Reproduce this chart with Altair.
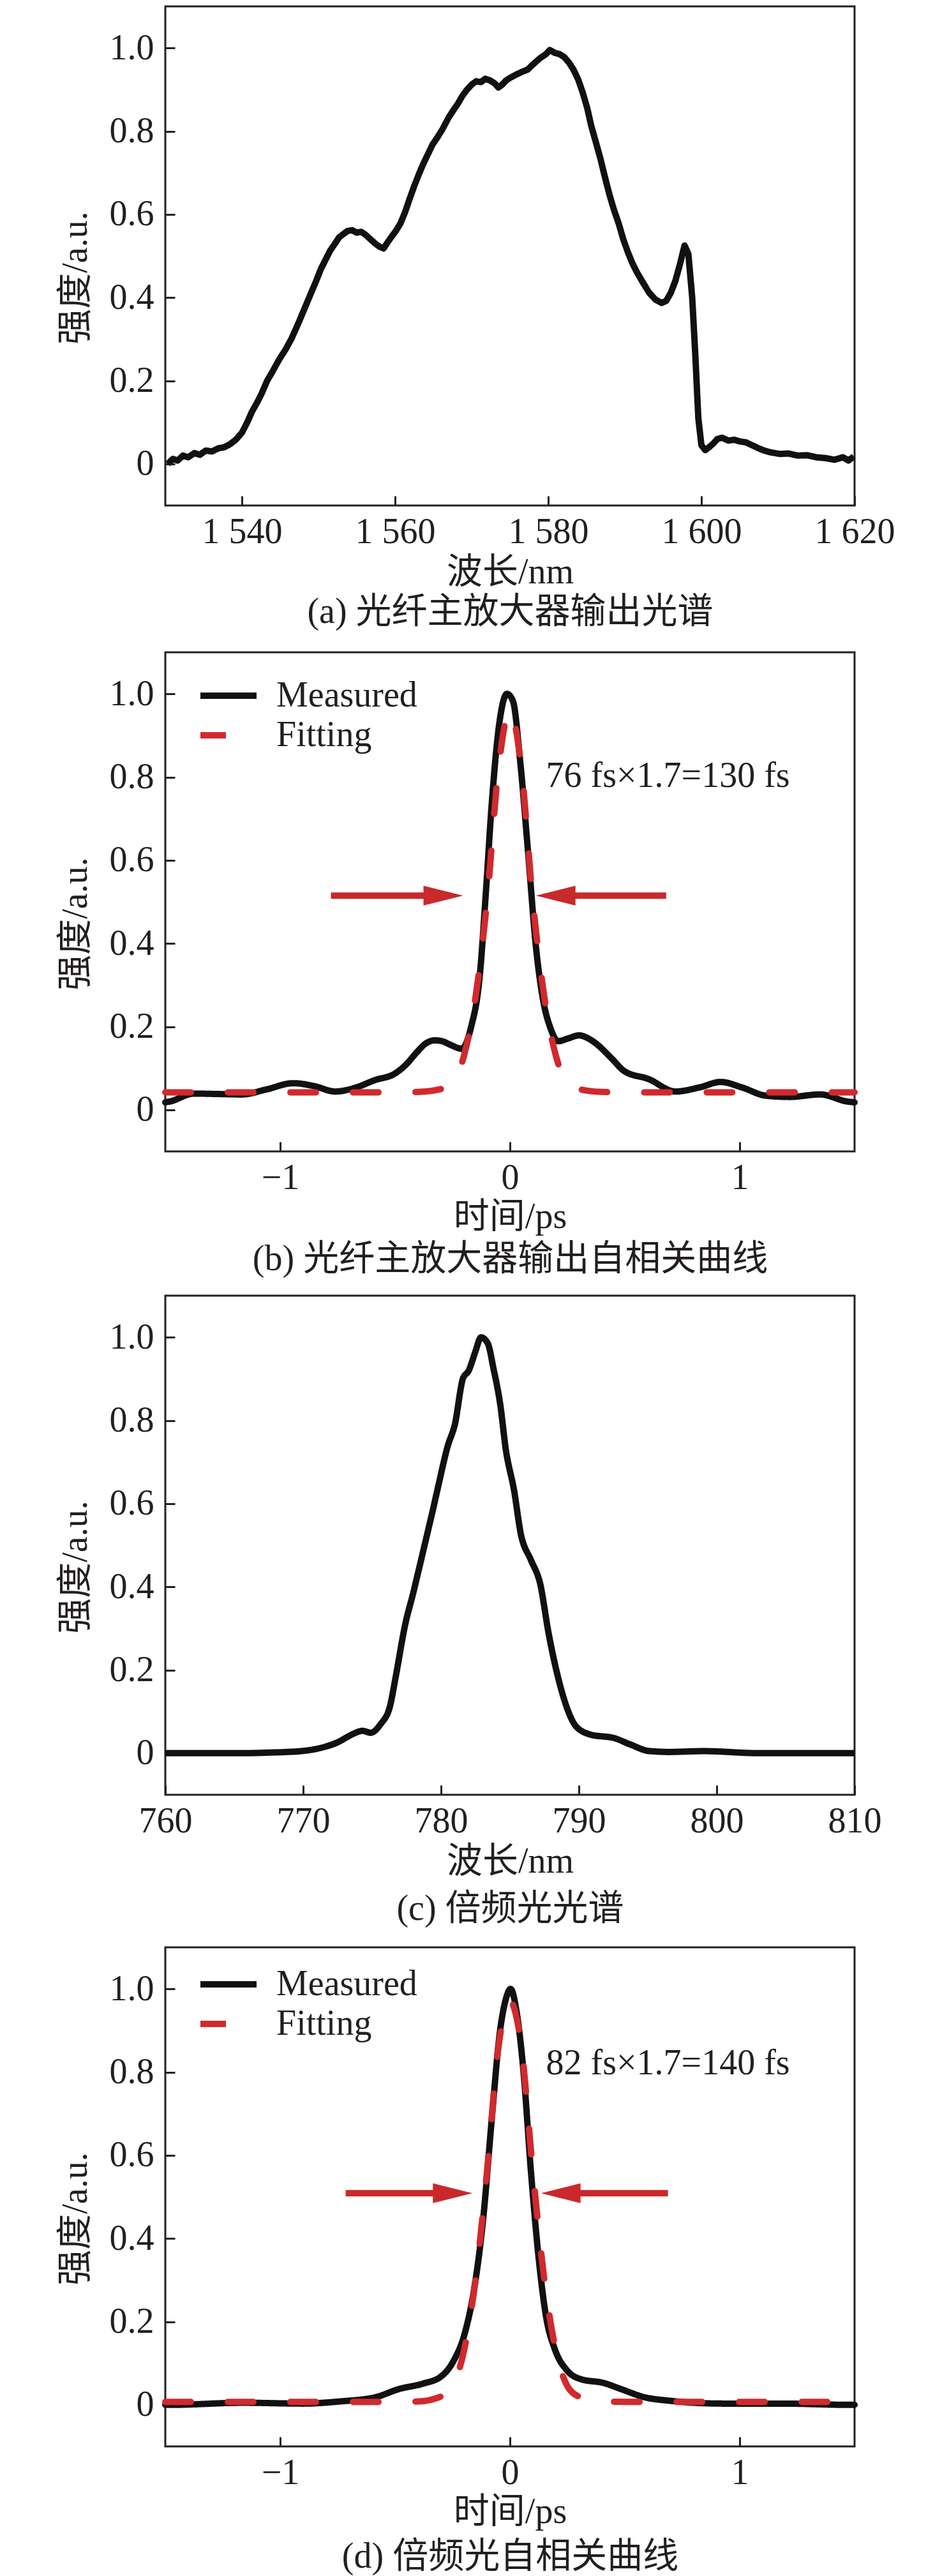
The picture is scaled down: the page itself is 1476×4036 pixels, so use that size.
import altair as alt
import pandas as pd

# ---------------- data ----------------
# (a) fibre main amplifier output spectrum
a_wavelength = [
    1530.3, 1531.0, 1531.6, 1532.3, 1533.0, 1533.8, 1534.5, 1535.3, 1536.1, 1537.0,
    1537.7, 1538.5, 1539.2, 1540.0, 1540.7, 1541.3, 1542.0, 1542.6, 1543.3, 1544.0,
    1544.9, 1545.7, 1546.5, 1547.3, 1548.1, 1548.9, 1549.7, 1550.3, 1550.9, 1551.5,
    1552.1, 1552.7, 1553.2, 1553.8, 1554.4, 1555.0, 1555.6, 1556.2, 1556.8, 1557.4,
    1558.0, 1558.5, 1559.0, 1559.5, 1560.1, 1560.7, 1561.3, 1561.9, 1562.5, 1563.1,
    1563.7, 1564.3, 1564.9, 1565.5, 1566.2, 1567.0, 1567.6, 1568.2, 1568.8, 1569.4,
    1570.0, 1570.6, 1571.2, 1571.8, 1572.4, 1573.0, 1573.5, 1574.0, 1574.5, 1575.0,
    1575.7, 1576.5, 1577.3, 1578.1, 1578.9, 1579.7, 1580.2, 1580.9, 1581.5, 1582.1,
    1582.7, 1583.3, 1583.9, 1584.5, 1585.1, 1585.6, 1586.2, 1586.8, 1587.4, 1588.0,
    1588.6, 1589.2, 1589.8, 1590.4, 1591.0, 1591.6, 1592.4, 1593.2, 1594.0, 1594.8,
    1595.4, 1596.0, 1596.6, 1597.2, 1597.8, 1598.3, 1598.8, 1599.2, 1599.6, 1600.0,
    1600.5, 1601.0, 1601.5, 1602.1, 1602.7, 1603.5, 1604.3, 1605.0, 1605.8, 1606.6,
    1607.4, 1608.2, 1609.0, 1610.2, 1611.4, 1612.6, 1613.8, 1615.0, 1616.2, 1617.4,
    1618.5, 1619.2, 1619.9,
]
a_intensity = [
    0.000, 0.012, 0.008, 0.020, 0.016, 0.026, 0.022, 0.032, 0.030, 0.038,
    0.040, 0.048, 0.058, 0.075, 0.100, 0.125, 0.148, 0.170, 0.200, 0.222,
    0.252, 0.275, 0.302, 0.335, 0.370, 0.405, 0.440, 0.468, 0.490, 0.512,
    0.528, 0.545, 0.552, 0.560, 0.562, 0.556, 0.558, 0.550, 0.540, 0.530,
    0.522, 0.518, 0.532, 0.545, 0.560, 0.578, 0.605, 0.637, 0.668, 0.696,
    0.722, 0.745, 0.768, 0.784, 0.805, 0.833, 0.850, 0.866, 0.885, 0.900,
    0.912, 0.920, 0.918, 0.926, 0.922, 0.915, 0.905, 0.912, 0.922, 0.928,
    0.935, 0.942, 0.948, 0.962, 0.975, 0.985, 0.995, 0.988, 0.985, 0.978,
    0.965, 0.948, 0.925, 0.893, 0.855, 0.814, 0.775, 0.735, 0.690, 0.647,
    0.610, 0.578, 0.540, 0.509, 0.482, 0.460, 0.435, 0.411, 0.395, 0.387,
    0.392, 0.411, 0.440, 0.480, 0.525, 0.505, 0.400, 0.264, 0.110, 0.045,
    0.033, 0.040, 0.048, 0.060, 0.063, 0.056, 0.058, 0.054, 0.052, 0.045,
    0.038, 0.032, 0.028, 0.024, 0.025, 0.020, 0.021, 0.016, 0.014, 0.010,
    0.016, 0.008, 0.018,
]

# (b) autocorrelation of the main amplifier output
b_time = [-1.5, -1.48, -1.376, -1.27, -1.166, -1.06, -0.944, -0.852, -0.76, -0.668,
          -0.59, -0.498, -0.45, -0.406, -0.365, -0.328, -0.295, -0.262, -0.21, -0.17,
          -0.131, -0.105, -0.079, -0.045, -0.013, 0.013, 0.045, 0.079, 0.113, 0.144,
          0.176, 0.21, 0.255, 0.301, 0.34, 0.38, 0.44, 0.498, 0.603, 0.721,
          0.826, 0.917, 1.009, 1.114, 1.219, 1.35, 1.468, 1.5]
b_measured = [0.018, 0.02, 0.039, 0.038, 0.037, 0.049, 0.064, 0.057, 0.044, 0.054,
              0.071, 0.088, 0.11, 0.138, 0.16, 0.167, 0.165, 0.157, 0.147, 0.197,
              0.324, 0.52, 0.737, 0.934, 1.0, 0.983, 0.836, 0.619, 0.393, 0.265,
              0.197, 0.165, 0.172, 0.179, 0.172, 0.157, 0.125, 0.093, 0.074, 0.044,
              0.054, 0.067, 0.054, 0.034, 0.031, 0.037, 0.02, 0.018]
b_fit_time = [-1.5, -0.5, -0.4, -0.3, -0.25, -0.2, -0.15, -0.1, -0.05, 0.0,
              0.05, 0.1, 0.15, 0.2, 0.25, 0.3, 0.4, 0.5, 1.5]
b_fitting = [0.042, 0.042, 0.043, 0.05, 0.065, 0.13, 0.27, 0.5, 0.82, 0.96,
             0.82, 0.5, 0.27, 0.13, 0.065, 0.05, 0.043, 0.042, 0.042]
b_arrow_start = [-0.779, 0.68]
b_arrow_tip = [-0.204, 0.113]
b_arrow_level = 0.515
b_note = "76 fs×1.7=130 fs"
b_note_pos = (0.157, 0.803)

# (c) frequency-doubled spectrum
c_wavelength = [760, 765.5, 768.1, 769.9, 771.2, 772.5, 773.6, 774.3, 774.9, 775.6,
                776.3, 776.7, 777.4, 778.0, 778.7, 779.4, 779.8, 780.5, 781.0, 781.6,
                782.0, 782.5, 782.9, 783.4, 783.8, 784.3, 784.7, 785.3, 785.8, 786.5,
                787.2, 787.8, 788.5, 789.2, 789.8, 790.9, 792.5, 793.8, 795.1, 796.5,
                799.1, 803.1, 810]
c_intensity = [0, 0, 0.002, 0.005, 0.012, 0.026, 0.046, 0.054, 0.049, 0.069,
               0.113, 0.181, 0.309, 0.387, 0.485, 0.583, 0.642, 0.74, 0.789, 0.902,
               0.919, 0.966, 1.0, 0.985, 0.926, 0.838, 0.73, 0.632, 0.525, 0.466,
               0.407, 0.289, 0.181, 0.103, 0.064, 0.044, 0.037, 0.02, 0.005, 0.003,
               0.005, 0, 0]

# (d) autocorrelation of the frequency-doubled light
d_time = [-1.5, -1.475, -1.162, -0.901, -0.744, -0.587, -0.483, -0.379, -0.3, -0.248,
          -0.196, -0.157, -0.117, -0.078, -0.044, -0.018, 0.003, 0.029, 0.06, 0.091,
          0.123, 0.157, 0.196, 0.248, 0.313, 0.405, 0.483, 0.587, 0.692, 0.927,
          1.188, 1.475, 1.5]
d_measured = [0, 0, 0.005, 0.003, 0.008, 0.018, 0.038, 0.051, 0.068, 0.103,
              0.173, 0.274, 0.444, 0.694, 0.895, 0.975, 1.0, 0.945, 0.795, 0.564,
              0.364, 0.213, 0.133, 0.083, 0.061, 0.053, 0.038, 0.018, 0.01, 0.003,
              0.003, 0, 0]
d_fit_time = [-1.5, -0.6, -0.4, -0.3, -0.25, -0.2, -0.15, -0.1, -0.05, 0.0,
              0.05, 0.1, 0.15, 0.2, 0.25, 0.3, 0.4, 0.6, 1.5]
d_fitting = [0.007, 0.007, 0.008, 0.02, 0.045, 0.13, 0.3, 0.56, 0.86, 0.97,
             0.86, 0.56, 0.3, 0.13, 0.045, 0.02, 0.008, 0.007, 0.007]
d_arrow_start = [-0.715, 0.688]
d_arrow_tip = [-0.163, 0.135]
d_arrow_level = 0.509
d_note = "82 fs×1.7=140 fs"
d_note_pos = (0.157, 0.82)

y_ticks = [0, 0.2, 0.4, 0.6, 0.8, 1.0]
series_names = ["Measured", "Fitting"]

# ---------------- styling ----------------
FONT = "'Liberation Serif', 'Times New Roman', 'Noto Sans CJK SC', serif"
INK = "#231f20"
RED = "#d02a2e"
ARROW = "#c9292b"
W, H = 1080, 782
FS = 56
TICK = 15

def y_axis():
    return alt.Axis(
        values=y_ticks,
        labelExpr="datum.value == 0 ? '0' : format(datum.value, '.1f')",
        title="强度/a.u.", grid=False, domain=False,
        offset=-TICK, tickSize=TICK, tickWidth=3, tickColor=INK,
        labelPadding=18, labelFontSize=FS, labelFont=FONT, labelColor=INK,
        titleFontSize=FS, titleFont=FONT, titleColor=INK, titleFontWeight="normal",
        titlePadding=24, titleY=425,
    )

def x_axis(values, label_expr, lines, line_height, title_padding):
    return alt.Axis(
        values=values, labelExpr=label_expr, labelFlush=False, labelOverlap=False,
        title=lines, grid=False, domain=False,
        offset=-TICK, tickSize=TICK, tickWidth=3, tickColor=INK,
        labelPadding=14, labelFontSize=FS, labelFont=FONT, labelColor=INK,
        titleFontSize=FS, titleFont=FONT, titleColor=INK, titleFontWeight="normal",
        titleLineHeight=line_height, titlePadding=title_padding,
    )

y_scale = alt.Scale(domain=[-0.1, 1.1], nice=False, zero=False)
spec_label = "substring(toString(datum.value), 0, 1) + ' ' + substring(toString(datum.value), 1)"
time_label = "datum.value < 0 ? '\u2212' + toString(-datum.value) : toString(datum.value)"


def spectrum_panel(xs, ys, domain, ticks, label_expr, lines, lh, tp, interp):
    df = pd.DataFrame({"x": xs, "y": ys})
    return alt.Chart(df).mark_line(
        color="#111111", strokeWidth=10, interpolate=interp, strokeJoin="round"
    ).encode(
        x=alt.X("x:Q", scale=alt.Scale(domain=domain, nice=False, zero=False),
                axis=x_axis(ticks, label_expr, lines, lh, tp)),
        y=alt.Y("y:Q", scale=y_scale, axis=y_axis()),
    ).properties(width=W, height=H)


def autocorr_panel(t, meas, ft, fit, a_start, a_tip, a_level, note, note_pos,
                   lines, lh, tp, legend_y):
    df = pd.concat([
        pd.DataFrame({"x": t, "y": meas, "series": "Measured"}),
        pd.DataFrame({"x": ft, "y": fit, "series": "Fitting"}),
    ])
    xsc = alt.Scale(domain=[-1.5, 1.5], nice=False, zero=False)
    legend = alt.Legend(
        orient="none", legendX=50, legendY=legend_y, title=None,
        symbolType="stroke", symbolSize=7744, symbolStrokeWidth=10,
        labelFontSize=FS, labelFont=FONT, labelColor=INK, labelOffset=26,
        labelLimit=600, rowPadding=6, clipHeight=FS, padding=0,
    )
    color = alt.Color("series:N", scale=alt.Scale(domain=series_names, range=["#111111", RED]),
                      legend=legend)
    dash = alt.StrokeDash("series:N", scale=alt.Scale(domain=series_names, range=[[1, 0], [40, 58]]),
                          legend=legend)
    base = alt.Chart(df).encode(
        x=alt.X("x:Q", scale=xsc, axis=x_axis([-1, 0, 1], time_label, lines, lh, tp)),
        y=alt.Y("y:Q", scale=y_scale, axis=y_axis()),
        color=color, strokeDash=dash,
    )
    meas_line = base.transform_filter(alt.datum.series == "Measured").mark_line(
        strokeWidth=10, interpolate="monotone", strokeCap="round")
    fit_line = base.transform_filter(alt.datum.series == "Fitting").mark_line(
        strokeWidth=10, interpolate="monotone", strokeCap="round")

    arrows = pd.DataFrame({"start": a_start, "tip": a_tip, "level": [a_level, a_level],
                           "side": ["left", "right"]})
    ach = alt.Chart(arrows)
    shaft_l = ach.transform_filter(alt.datum.side == "left").mark_rule(
        color=ARROW, strokeWidth=10, x2Offset=-40).encode(
        x=alt.X("start:Q", scale=xsc), x2="tip:Q", y=alt.Y("level:Q", scale=y_scale))
    shaft_r = ach.transform_filter(alt.datum.side == "right").mark_rule(
        color=ARROW, strokeWidth=10, x2Offset=40).encode(
        x=alt.X("start:Q", scale=xsc), x2="tip:Q", y=alt.Y("level:Q", scale=y_scale))
    head_l = ach.transform_filter(alt.datum.side == "left").mark_point(
        shape="M-1,-0.5L1,0L-1,0.5Z", size=3844, filled=True, opacity=1,
        color=ARROW, xOffset=-31).encode(
        x=alt.X("tip:Q", scale=xsc), y=alt.Y("level:Q", scale=y_scale))
    head_r = ach.transform_filter(alt.datum.side == "right").mark_point(
        shape="M1,-0.5L-1,0L1,0.5Z", size=3844, filled=True, opacity=1,
        color=ARROW, xOffset=31).encode(
        x=alt.X("tip:Q", scale=xsc), y=alt.Y("level:Q", scale=y_scale))

    ndf = pd.DataFrame({"x": [note_pos[0]], "y": [note_pos[1]], "t": [note]})
    text = alt.Chart(ndf).mark_text(
        align="left", baseline="middle", font=FONT, fontSize=FS, color=INK
    ).encode(x=alt.X("x:Q", scale=xsc), y=alt.Y("y:Q", scale=y_scale), text="t:N")

    return alt.layer(meas_line, fit_line, shaft_l, shaft_r, head_l, head_r, text).properties(
        width=W, height=H)


pa = spectrum_panel(a_wavelength, a_intensity, [1530, 1620], [1540, 1560, 1580, 1600, 1620],
                    spec_label, ["波长/nm", "(a) 光纤主放大器输出光谱"], 62, 8, "linear")
pb = autocorr_panel(b_time, b_measured, b_fit_time, b_fitting, b_arrow_start, b_arrow_tip,
                    b_arrow_level, b_note, b_note_pos,
                    ["时间/ps", "(b) 光纤主放大器输出自相关曲线"], 66, 6, 40)
pc = spectrum_panel(c_wavelength, c_intensity, [760, 810], [760, 770, 780, 790, 800, 810],
                    "toString(datum.value)", ["波长/nm", "(c) 倍频光光谱"], 74, 8, "monotone")
pd_ = autocorr_panel(d_time, d_measured, d_fit_time, d_fitting, d_arrow_start, d_arrow_tip,
                     d_arrow_level, d_note, d_note_pos,
                     ["时间/ps", "(d) 倍频光自相关曲线"], 70, 6, 30)


def indep(ch):
    return ch.resolve_scale(color="independent", strokeDash="independent", x="independent",
                            y="independent").resolve_legend(color="independent",
                                                             strokeDash="independent")

top = indep(alt.vconcat(pa, pb, spacing=32))
bottom = indep(alt.vconcat(pc, pd_, spacing=29))
chart = indep(alt.vconcat(top, bottom, spacing=26)).properties(
    padding={"left": 80, "top": 0, "right": 5, "bottom": 0}
).configure(background="white").configure_view(stroke=INK, strokeWidth=3)

chart.save("out.html", embed_options={"renderer": "svg", "actions": False})
